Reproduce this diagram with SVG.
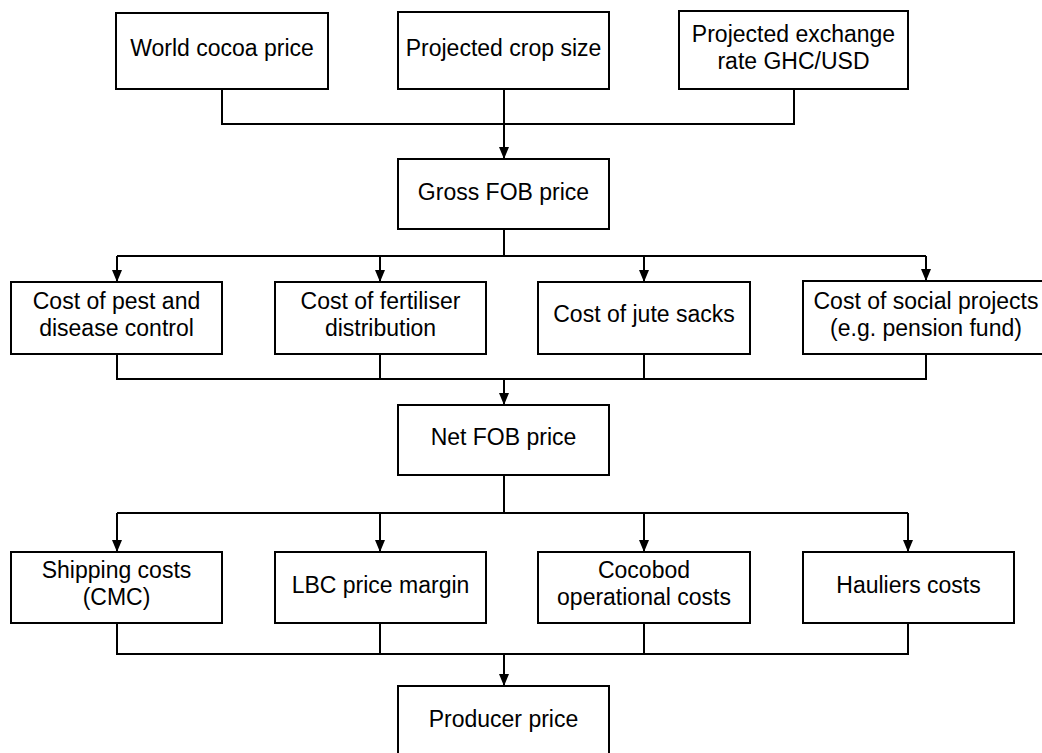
<svg xmlns="http://www.w3.org/2000/svg" width="1042" height="753" viewBox="0 0 1042 753">
<style>
.box{fill:#fff;stroke:#000;stroke-width:2}
.t{font-family:"Liberation Sans",Arial,sans-serif;font-size:23px;fill:#000;text-anchor:middle}
.c{fill:none;stroke:#000;stroke-width:2}
</style>
<defs>
<marker id="ah" viewBox="0 0 12 10" refX="12" refY="5" markerWidth="12" markerHeight="10" markerUnits="userSpaceOnUse" orient="auto">
<path d="M0,0 L12,5 L0,10 z" fill="#000"/>
</marker>
</defs>
<rect width="1042" height="753" fill="#fff"/>
<g id="connectors">
<path class="c" d="M222,89 V124 H794 V89 M504,89 V124"/>
<path class="c" d="M504,124 V159" marker-end="url(#ah)"/>
<path class="c" d="M504,229 V256 M117,256 H926"/>
<path class="c" d="M117,256 V282" marker-end="url(#ah)"/>
<path class="c" d="M380,256 V282" marker-end="url(#ah)"/>
<path class="c" d="M644,256 V282" marker-end="url(#ah)"/>
<path class="c" d="M926,256 V281" marker-end="url(#ah)"/>
<path class="c" d="M117,354 V379 H926 V354 M380,354 V379 M644,354 V379"/>
<path class="c" d="M504,379 V405" marker-end="url(#ah)"/>
<path class="c" d="M504,475 V513 M117,513 H908"/>
<path class="c" d="M117,513 V552" marker-end="url(#ah)"/>
<path class="c" d="M380,513 V552" marker-end="url(#ah)"/>
<path class="c" d="M644,513 V552" marker-end="url(#ah)"/>
<path class="c" d="M908,513 V552" marker-end="url(#ah)"/>
<path class="c" d="M117,623 V654 H908 V623 M380,623 V654 M644,623 V654"/>
<path class="c" d="M504,654 V686" marker-end="url(#ah)"/>
</g>
<g id="world"><rect class="box" x="116" y="13" width="212" height="76"/><text class="t" x="222" y="56">World cocoa price</text></g>
<g id="crop"><rect class="box" x="398" y="12" width="211" height="77"/><text class="t" x="503.5" y="56">Projected crop size</text></g>
<g id="exchange"><rect class="box" x="679" y="11" width="229" height="78"/><text class="t" x="793.5" y="41.5">Projected exchange</text><text class="t" x="793.5" y="68.5">rate GHC/USD</text></g>
<g id="gross"><rect class="box" x="398" y="159" width="211" height="70"/><text class="t" x="503.5" y="199.5">Gross FOB price</text></g>
<g id="pest"><rect class="box" x="11" y="282" width="211" height="72"/><text class="t" x="116.5" y="308.5">Cost of pest and</text><text class="t" x="116.5" y="336">disease control</text></g>
<g id="fertiliser"><rect class="box" x="275" y="282" width="211" height="72"/><text class="t" x="380.5" y="308.5">Cost of fertiliser</text><text class="t" x="380.5" y="336">distribution</text></g>
<g id="jute"><rect class="box" x="538" y="282" width="212" height="72"/><text class="t" x="644" y="322">Cost of jute sacks</text></g>
<g id="social"><rect class="box" x="803" y="281" width="246" height="73"/><text class="t" x="926" y="308.5">Cost of social projects</text><text class="t" x="926" y="336">(e.g. pension fund)</text></g>
<g id="net"><rect class="box" x="398" y="405" width="211" height="70"/><text class="t" x="503.5" y="445">Net FOB price</text></g>
<g id="shipping"><rect class="box" x="11" y="552" width="211" height="71"/><text class="t" x="116.5" y="578">Shipping costs</text><text class="t" x="116.5" y="605">(CMC)</text></g>
<g id="lbc"><rect class="box" x="275" y="552" width="211" height="71"/><text class="t" x="380.5" y="592.5">LBC price margin</text></g>
<g id="cocobod"><rect class="box" x="538" y="552" width="212" height="71"/><text class="t" x="644" y="578">Cocobod</text><text class="t" x="644" y="605">operational costs</text></g>
<g id="hauliers"><rect class="box" x="803" y="552" width="211" height="71"/><text class="t" x="908.5" y="592.5">Hauliers costs</text></g>
<g id="producer"><rect class="box" x="398" y="686" width="211" height="70"/><text class="t" x="503.5" y="726.5">Producer price</text></g>
</svg>
